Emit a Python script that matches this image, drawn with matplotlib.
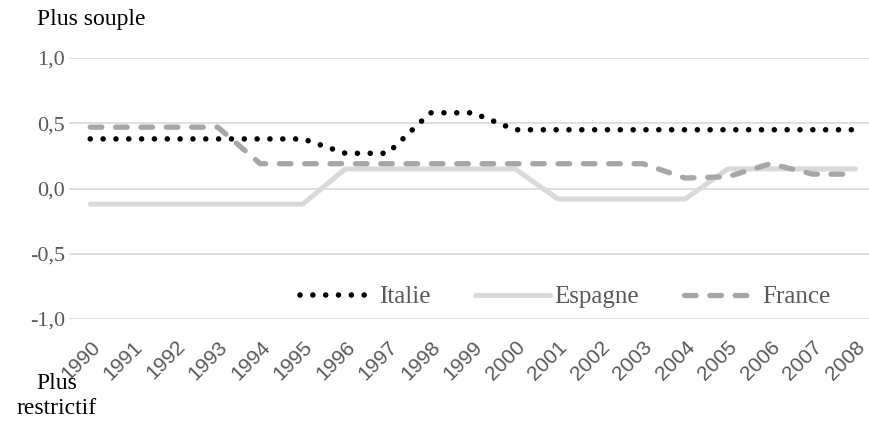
import numpy as np
import matplotlib
matplotlib.use("Agg")
import matplotlib.pyplot as plt

years = [str(y) for y in range(1990, 2009)]
italie = [0.38, 0.38, 0.38, 0.38, 0.38, 0.38, 0.27, 0.27, 0.58, 0.58,
          0.45, 0.45, 0.45, 0.45, 0.45, 0.45, 0.45, 0.45, 0.45]
espagne = [-0.12, -0.12, -0.12, -0.12, -0.12, -0.12, 0.15, 0.15, 0.15, 0.15,
           0.15, -0.08, -0.08, -0.08, -0.08, 0.15, 0.15, 0.15, 0.15]
france = [0.47, 0.47, 0.47, 0.47, 0.19, 0.19, 0.19, 0.19, 0.19, 0.19,
          0.19, 0.19, 0.19, 0.19, 0.08, 0.09, 0.19, 0.11, 0.11]
yticks = [-1.0, -0.5, 0.0, 0.5, 1.0]
ytick_labels = ["-1,0", "-0,5", "0,0", "0,5", "1,0"]

SERIF = "Liberation Serif"
SANS = "Liberation Sans"
GREY_TXT = "#595959"

fig = plt.figure(figsize=(8.7, 4.21), dpi=100)
ax = fig.add_axes([69 / 870, 1 - 319 / 421, 807.5 / 870, 261 / 421])

x = np.arange(len(years))
ax.plot(x, italie, color="black", lw=4.0, linestyle=(0, (0.01, 2.3)),
        dash_capstyle="round", solid_joinstyle="round", label="Italie", zorder=3)
ax.plot(x, espagne, color="#d9d9d9", lw=3.6, solid_capstyle="round",
        solid_joinstyle="round", label="Espagne", zorder=2)
ax.plot(x, france, color="#a6a6a6", lw=3.8, linestyle=(0, (2.2, 2.6)),
        dash_capstyle="round", dash_joinstyle="round", label="France", zorder=2)

ax.set_xlim(-0.5, len(years) - 0.5)
ax.set_ylim(-1.0, 1.0)
ax.set_yticks(yticks)
ax.set_yticklabels(ytick_labels, fontfamily=SERIF, fontsize=16, color=GREY_TXT)
ax.set_xticks(x)
ax.set_xticklabels(years, fontfamily=SANS, fontsize=15, color=GREY_TXT,
                   rotation=45, ha="right", rotation_mode="anchor")
ax.tick_params(axis="y", length=0, pad=3)
ax.tick_params(axis="x", length=0, pad=13)
for s in ax.spines.values():
    s.set_visible(False)
ax.grid(axis="y", color="#d9d9d9", lw=1.2)
ax.set_axisbelow(True)

leg = ax.legend(loc="center left", bbox_to_anchor=((300 - 69) / 807.5, (319 - 297) / 261),
                ncol=3, frameon=False, handlelength=3.0, handletextpad=0.15,
                columnspacing=1.8, borderaxespad=0, borderpad=0,
                prop={"family": SERIF, "size": 18})
for t in leg.get_texts():
    t.set_color(GREY_TXT)

fig.text(37 / 870, 1 - 20 / 421, "Plus souple", fontfamily=SERIF, fontsize=17,
         color="black", va="center", ha="left")
fig.text(57 / 870, 1 - 396 / 421, "Plus\nrestrictif", fontfamily=SERIF, fontsize=17,
         color="black", va="center", ha="center", linespacing=1.2)

fig.savefig("out.png", dpi=100)
